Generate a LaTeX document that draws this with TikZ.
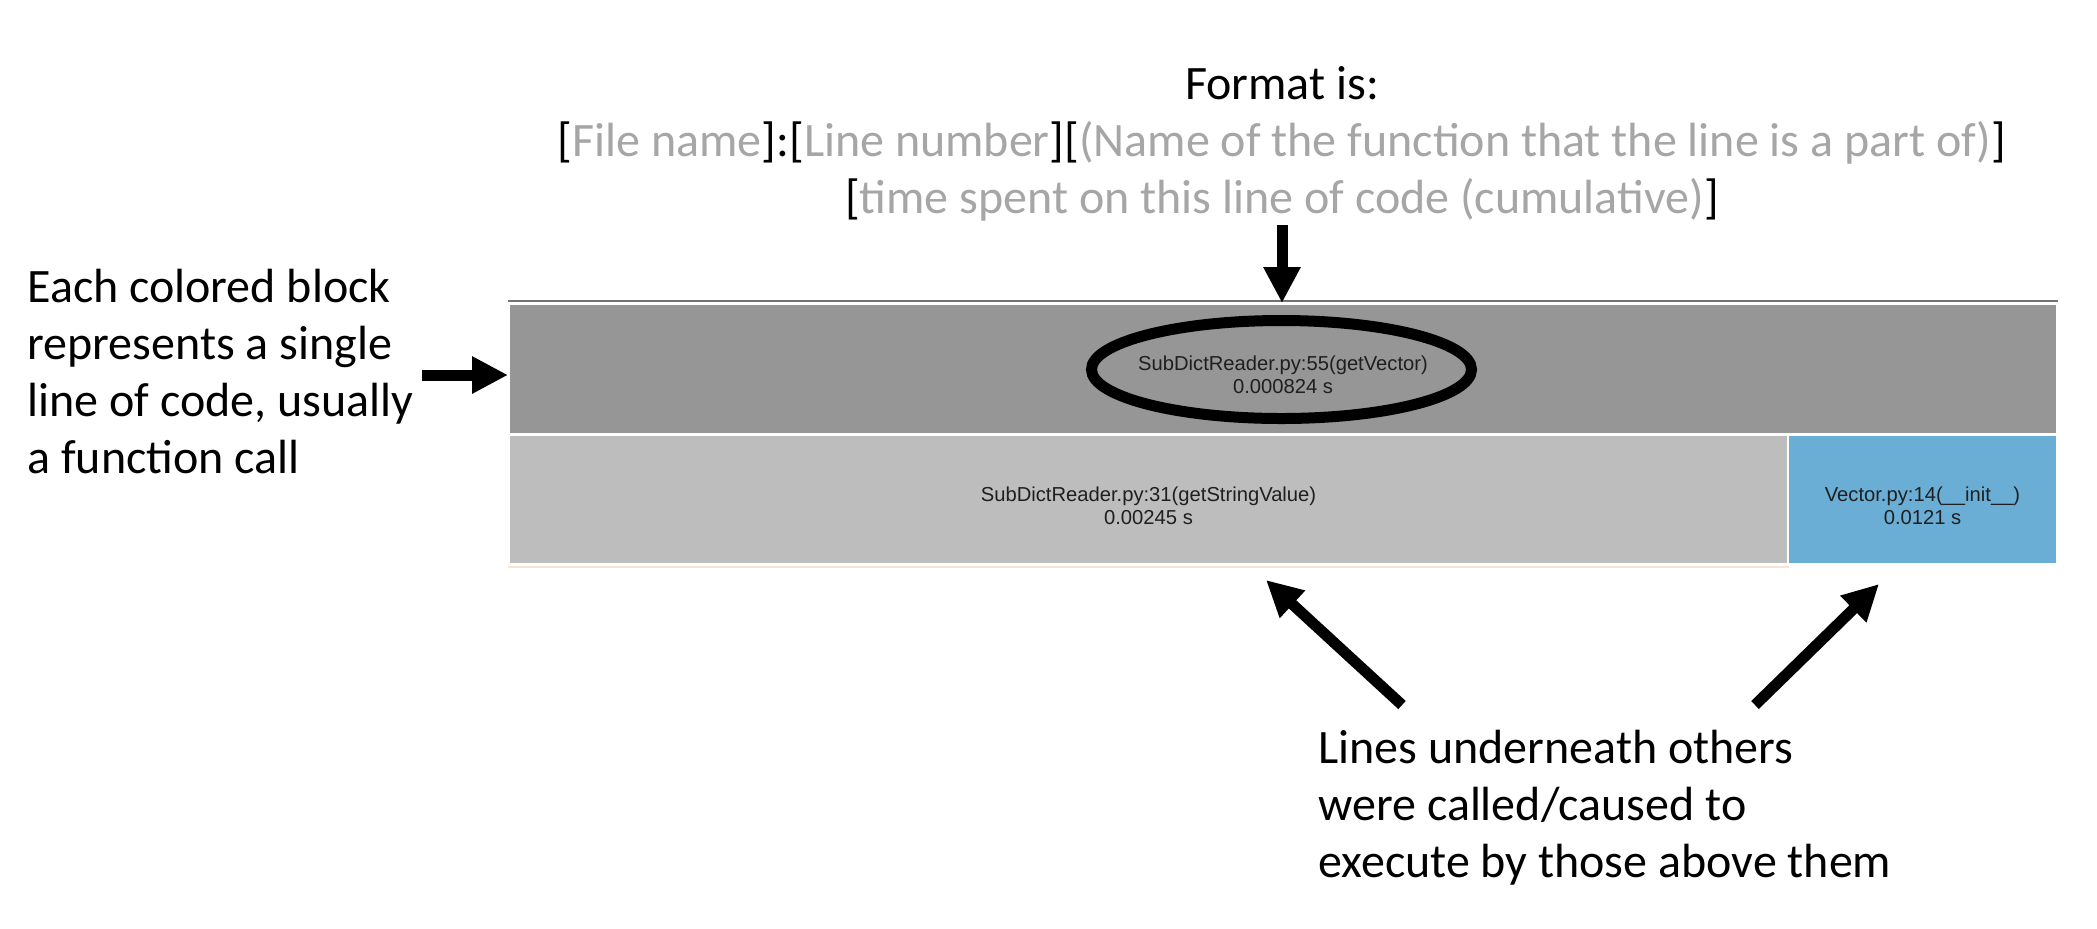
\documentclass[tikz,border=0pt]{standalone}
\usepackage{fontspec}
\setmainfont{Carlito}
\newfontfamily\blockfont{Liberation Sans}
\usetikzlibrary{arrows.meta,shapes.geometric}

\definecolor{topgray}{HTML}{969696}
\definecolor{midgray}{HTML}{BDBDBD}
\definecolor{vecblue}{HTML}{6AAED6}
\definecolor{hintgray}{HTML}{A6A6A6}
\definecolor{edgepeach}{HTML}{FBE3D2}

\newcommand{\greytxt}[1]{\textcolor{hintgray}{#1}}

\tikzset{
    block/.style={draw=white, line width=1pt, inner sep=0pt},
    blocktext/.style={align=center, inner sep=0pt, text=black!88,
        font=\blockfont\fontsize{10.1pt}{11.5pt}\selectfont},
    note/.style={inner sep=0pt, font=\fontsize{24pt}{28.5pt}\selectfont},
    bigarrow/.style={line width=5.5pt, -{Triangle[width=17.5pt,length=18pt]}},
}

\begin{document}
\begin{tikzpicture}[x=0.5pt, y=-0.5pt]
        % Canvas
        \fill[white] (0,0) rectangle (2097,928);
        \useasboundingbox (0,0) rectangle (2097,928);

        % Blocks
        \node[block, fill=topgray, minimum width=774pt, minimum height=65pt] (top) at (1283,369) {};
        \node[block, fill=midgray, minimum width=639.5pt, minimum height=64.5pt] (mid) at (1148.5,499.5) {};
        \node[block, fill=vecblue, minimum width=134.5pt, minimum height=64.5pt] (vec) at (1922.5,499.5) {};
        \draw[black!55, line width=0.75pt] ([yshift=1pt]top.north west) -- ([yshift=1pt]top.north east);
        \draw[edgepeach, line width=0.6pt] ([yshift=-1pt]mid.south west) -- ([yshift=-1pt]mid.south east);

        % Block labels
        \node[blocktext] (topl) at ([yshift=-2.75pt]top) {SubDictReader.py:55(getVector)\\0.000824 s};
        \node[blocktext] (midl) at ([yshift=-3pt]mid) {SubDictReader.py:31(getStringValue)\\0.00245 s};
        \node[blocktext] (vecl) at ([yshift=-3pt]vec) {Vector.py:14(\_\_init\_\_)\\0.0121 s};

        % Ring round the top label
        \node[draw, ellipse, line width=5.5pt, minimum width=190pt, minimum height=49pt, inner sep=0pt] (ring) at (1281.5,369.5) {};

        % Format text (base = last line)
        \node[note, align=center, anchor=base] (fmt) at (1282,213) {Format is:\\{[}\greytxt{File name}]:[\greytxt{Line number}][\greytxt{(Name of the function that the line is a part of)}]\\{[}\greytxt{time spent on this line of code (cumulative)}]};
        \draw[bigarrow, shorten <=2pt] (fmt.south) -- (fmt.south |- top.north);

        % Left text
        \node[note, align=left, anchor=base west] (side) at (27,473) {Each colored block\\represents a single\\line of code, usually\\a function call};
        \coordinate (lin) at (422,375);
        \draw[bigarrow] (lin) -- (lin -| top.west);

        % Bottom text
        \node[note, align=left, anchor=base west] (under) at (1318,877) {Lines underneath others\\were called/caused to\\execute by those above them};
        \coordinate (tailA) at (1402,705);
        \coordinate (tipA) at (1266,580);
        \coordinate (tailB) at (1755,705);
        \coordinate (tipB) at (1879,584);
        \draw[bigarrow] (tailA) -- (tipA);
        \draw[bigarrow] (tailB) -- (tipB);
    \end{tikzpicture}
\end{document}
